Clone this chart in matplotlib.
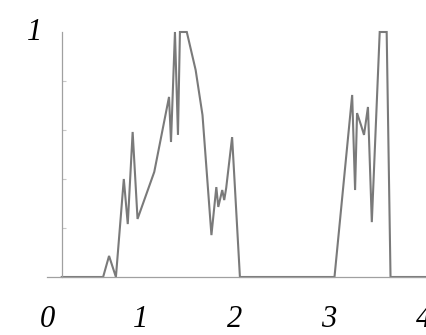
import matplotlib
matplotlib.use("Agg")
import matplotlib.pyplot as plt

# curve (flat tops sit on the upper limit, as in the reference)
x = [0.157, 0.597, 0.660, 0.733, 0.817, 0.859, 0.911, 0.963, 1.141, 1.298,
     1.319, 1.361, 1.393, 1.414, 1.487, 1.581, 1.654, 1.749, 1.801, 1.822,
     1.864, 1.885, 1.906, 1.969, 2.052, 3.058, 3.246, 3.277, 3.298, 3.340,
     3.372, 3.414, 3.455, 3.539, 3.613, 3.654, 4.10]
y = [0.0, 0.0, 0.086, 0.0, 0.40, 0.216, 0.592, 0.237, 0.429, 0.735,
     0.551, 1.0, 0.58, 1.0, 1.0, 0.845, 0.661, 0.171, 0.367, 0.286,
     0.355, 0.314, 0.363, 0.571, 0.0, 0.0, 0.743, 0.355, 0.669, 0.620,
     0.580, 0.694, 0.224, 1.0, 1.0, 0.0, 0.0]

x_ticks = [0, 1, 2, 3, 4]
x_labels = ["0", "1", "2", "3", "4"]
y_minor = [0.2, 0.4, 0.6, 0.8]
y_axis_at = 0.157

fig = plt.figure(figsize=(4.27, 3.35), dpi=100)
ax = fig.add_axes([47 / 427, 58 / 335, 380 / 427, 245 / 335])

ax.plot(x, y, color="#7a7a7a", lw=1.5, solid_joinstyle="miter", clip_on=False)

ax.set_xlim(0.063, 4.042)
ax.set_ylim(0, 1)

for s in ["top", "right"]:
    ax.spines[s].set_visible(False)
ax.spines["left"].set_position(("data", y_axis_at))
ax.spines["left"].set_color("#a0a0a0")
ax.spines["bottom"].set_color("#a0a0a0")
ax.spines["left"].set_linewidth(0.9)
ax.spines["bottom"].set_linewidth(0.9)

ax.set_xticks(x_ticks)
ax.set_xticklabels(x_labels, family="Liberation Serif", style="italic", fontsize=22)
ax.tick_params(axis="x", length=0, pad=20)

ax.set_yticks(y_minor)
ax.set_yticklabels([])
ax.tick_params(axis="y", direction="in", length=3, color="#c8c8c8", width=0.8)

fig.text(35 / 427, 1 - 32 / 335, "1", family="Liberation Serif", style="italic",
         fontsize=22, ha="center", va="center")

fig.savefig("out.png", dpi=100)
